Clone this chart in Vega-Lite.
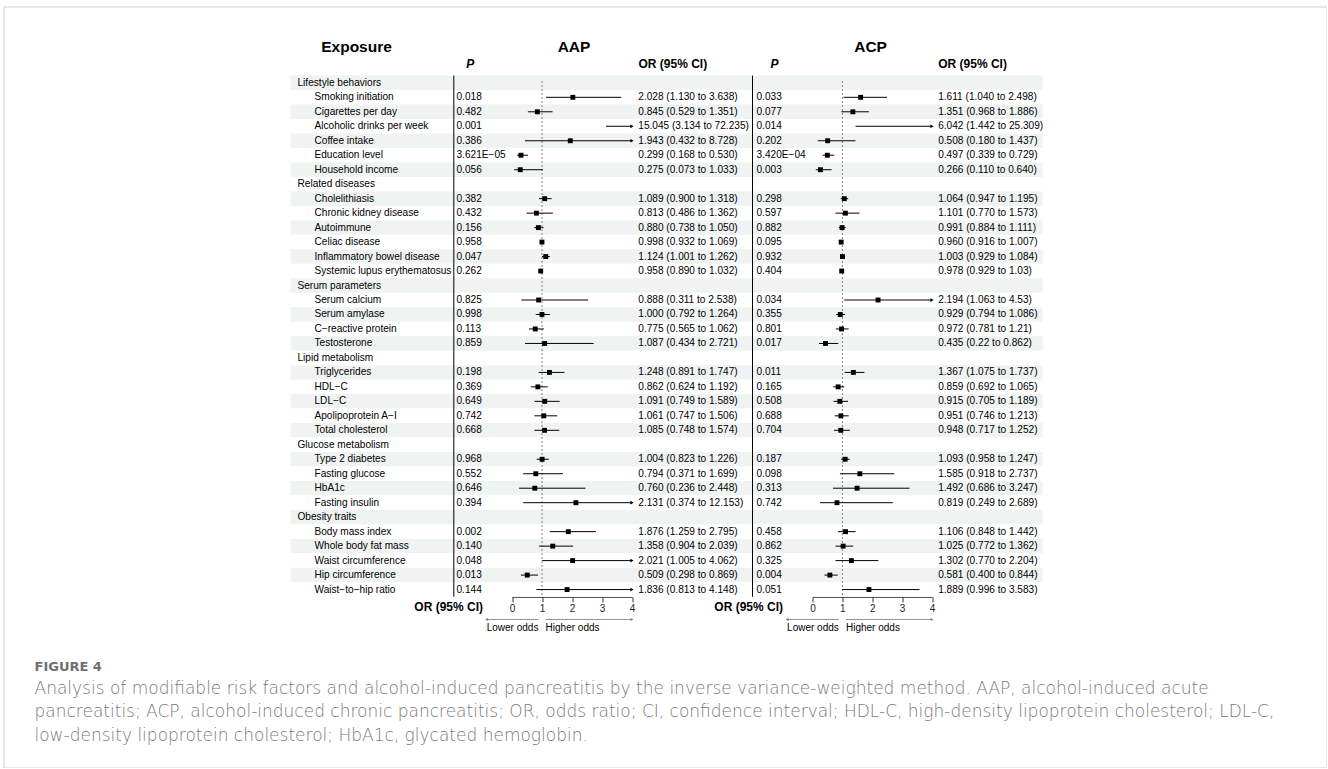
{
  "$schema": "https://vega.github.io/schema/vega-lite/v6.json",
  "padding": {"left": 3.5, "top": 6.5, "right": 0, "bottom": 0},
  "background": "white",
  "width": 1323,
  "height": 761,
  "view": {"stroke": "#cfcfcf", "strokeWidth": 1},
  "config": {
    "font": "Liberation Sans",
    "text": {"font": "Liberation Sans", "fontSize": 10.1, "color": "#000"},
    "axis": {"labelFont": "Liberation Sans", "titleFont": "Liberation Sans"}
  },
  "resolve": {"scale": {"x": "independent", "y": "independent"}, "axis": {"x": "independent", "y": "independent"}},
  "datasets": {
    "rows": [
      {"label": "Lifestyle behaviors", "type": "group"},
      {"label": "Smoking initiation", "type": "item", "aap_p": "0.018", "aap_or": 2.028, "aap_lo": 1.130, "aap_hi": 3.638, "aap_txt": "2.028 (1.130 to 3.638)", "acp_p": "0.033", "acp_or": 1.611, "acp_lo": 1.040, "acp_hi": 2.498, "acp_txt": "1.611 (1.040 to 2.498)"},
      {"label": "Cigarettes per day", "type": "item", "aap_p": "0.482", "aap_or": 0.845, "aap_lo": 0.529, "aap_hi": 1.351, "aap_txt": "0.845 (0.529 to 1.351)", "acp_p": "0.077", "acp_or": 1.351, "acp_lo": 0.968, "acp_hi": 1.886, "acp_txt": "1.351 (0.968 to 1.886)"},
      {"label": "Alcoholic drinks per week", "type": "item", "aap_p": "0.001", "aap_or": 15.045, "aap_lo": 3.134, "aap_hi": 72.235, "aap_txt": "15.045 (3.134 to 72.235)", "acp_p": "0.014", "acp_or": 6.042, "acp_lo": 1.442, "acp_hi": 25.309, "acp_txt": "6.042 (1.442 to 25.309)"},
      {"label": "Coffee intake", "type": "item", "aap_p": "0.386", "aap_or": 1.943, "aap_lo": 0.432, "aap_hi": 8.728, "aap_txt": "1.943 (0.432 to 8.728)", "acp_p": "0.202", "acp_or": 0.508, "acp_lo": 0.180, "acp_hi": 1.437, "acp_txt": "0.508 (0.180 to 1.437)"},
      {"label": "Education level", "type": "item", "aap_p": "3.621E−05", "aap_or": 0.299, "aap_lo": 0.168, "aap_hi": 0.530, "aap_txt": "0.299 (0.168 to 0.530)", "acp_p": "3.420E−04", "acp_or": 0.497, "acp_lo": 0.339, "acp_hi": 0.729, "acp_txt": "0.497 (0.339 to 0.729)"},
      {"label": "Household income", "type": "item", "aap_p": "0.056", "aap_or": 0.275, "aap_lo": 0.073, "aap_hi": 1.033, "aap_txt": "0.275 (0.073 to 1.033)", "acp_p": "0.003", "acp_or": 0.266, "acp_lo": 0.110, "acp_hi": 0.640, "acp_txt": "0.266 (0.110 to 0.640)"},
      {"label": "Related diseases", "type": "group"},
      {"label": "Cholelithiasis", "type": "item", "aap_p": "0.382", "aap_or": 1.089, "aap_lo": 0.900, "aap_hi": 1.318, "aap_txt": "1.089 (0.900 to 1.318)", "acp_p": "0.298", "acp_or": 1.064, "acp_lo": 0.947, "acp_hi": 1.195, "acp_txt": "1.064 (0.947 to 1.195)"},
      {"label": "Chronic kidney disease", "type": "item", "aap_p": "0.432", "aap_or": 0.813, "aap_lo": 0.486, "aap_hi": 1.362, "aap_txt": "0.813 (0.486 to 1.362)", "acp_p": "0.597", "acp_or": 1.101, "acp_lo": 0.770, "acp_hi": 1.573, "acp_txt": "1.101 (0.770 to 1.573)"},
      {"label": "Autoimmune", "type": "item", "aap_p": "0.156", "aap_or": 0.880, "aap_lo": 0.738, "aap_hi": 1.050, "aap_txt": "0.880 (0.738 to 1.050)", "acp_p": "0.882", "acp_or": 0.991, "acp_lo": 0.884, "acp_hi": 1.111, "acp_txt": "0.991 (0.884 to 1.111)"},
      {"label": "Celiac disease", "type": "item", "aap_p": "0.958", "aap_or": 0.998, "aap_lo": 0.932, "aap_hi": 1.069, "aap_txt": "0.998 (0.932 to 1.069)", "acp_p": "0.095", "acp_or": 0.960, "acp_lo": 0.916, "acp_hi": 1.007, "acp_txt": "0.960 (0.916 to 1.007)"},
      {"label": "Inflammatory bowel disease", "type": "item", "aap_p": "0.047", "aap_or": 1.124, "aap_lo": 1.001, "aap_hi": 1.262, "aap_txt": "1.124 (1.001 to 1.262)", "acp_p": "0.932", "acp_or": 1.003, "acp_lo": 0.929, "acp_hi": 1.084, "acp_txt": "1.003 (0.929 to 1.084)"},
      {"label": "Systemic lupus erythematosus", "type": "item", "aap_p": "0.262", "aap_or": 0.958, "aap_lo": 0.890, "aap_hi": 1.032, "aap_txt": "0.958 (0.890 to 1.032)", "acp_p": "0.404", "acp_or": 0.978, "acp_lo": 0.929, "acp_hi": 1.03, "acp_txt": "0.978 (0.929 to 1.03)"},
      {"label": "Serum parameters", "type": "group"},
      {"label": "Serum calcium", "type": "item", "aap_p": "0.825", "aap_or": 0.888, "aap_lo": 0.311, "aap_hi": 2.538, "aap_txt": "0.888 (0.311 to 2.538)", "acp_p": "0.034", "acp_or": 2.194, "acp_lo": 1.063, "acp_hi": 4.53, "acp_txt": "2.194 (1.063 to 4.53)"},
      {"label": "Serum amylase", "type": "item", "aap_p": "0.998", "aap_or": 1.000, "aap_lo": 0.792, "aap_hi": 1.264, "aap_txt": "1.000 (0.792 to 1.264)", "acp_p": "0.355", "acp_or": 0.929, "acp_lo": 0.794, "acp_hi": 1.086, "acp_txt": "0.929 (0.794 to 1.086)"},
      {"label": "C−reactive protein", "type": "item", "aap_p": "0.113", "aap_or": 0.775, "aap_lo": 0.565, "aap_hi": 1.062, "aap_txt": "0.775 (0.565 to 1.062)", "acp_p": "0.801", "acp_or": 0.972, "acp_lo": 0.781, "acp_hi": 1.21, "acp_txt": "0.972 (0.781 to 1.21)"},
      {"label": "Testosterone", "type": "item", "aap_p": "0.859", "aap_or": 1.087, "aap_lo": 0.434, "aap_hi": 2.721, "aap_txt": "1.087 (0.434 to 2.721)", "acp_p": "0.017", "acp_or": 0.435, "acp_lo": 0.22, "acp_hi": 0.862, "acp_txt": "0.435 (0.22 to 0.862)"},
      {"label": "Lipid metabolism", "type": "group"},
      {"label": "Triglycerides", "type": "item", "aap_p": "0.198", "aap_or": 1.248, "aap_lo": 0.891, "aap_hi": 1.747, "aap_txt": "1.248 (0.891 to 1.747)", "acp_p": "0.011", "acp_or": 1.367, "acp_lo": 1.075, "acp_hi": 1.737, "acp_txt": "1.367 (1.075 to 1.737)"},
      {"label": "HDL−C", "type": "item", "aap_p": "0.369", "aap_or": 0.862, "aap_lo": 0.624, "aap_hi": 1.192, "aap_txt": "0.862 (0.624 to 1.192)", "acp_p": "0.165", "acp_or": 0.859, "acp_lo": 0.692, "acp_hi": 1.065, "acp_txt": "0.859 (0.692 to 1.065)"},
      {"label": "LDL−C", "type": "item", "aap_p": "0.649", "aap_or": 1.091, "aap_lo": 0.749, "aap_hi": 1.589, "aap_txt": "1.091 (0.749 to 1.589)", "acp_p": "0.508", "acp_or": 0.915, "acp_lo": 0.705, "acp_hi": 1.189, "acp_txt": "0.915 (0.705 to 1.189)"},
      {"label": "Apolipoprotein A−I", "type": "item", "aap_p": "0.742", "aap_or": 1.061, "aap_lo": 0.747, "aap_hi": 1.506, "aap_txt": "1.061 (0.747 to 1.506)", "acp_p": "0.688", "acp_or": 0.951, "acp_lo": 0.746, "acp_hi": 1.213, "acp_txt": "0.951 (0.746 to 1.213)"},
      {"label": "Total cholesterol", "type": "item", "aap_p": "0.668", "aap_or": 1.085, "aap_lo": 0.748, "aap_hi": 1.574, "aap_txt": "1.085 (0.748 to 1.574)", "acp_p": "0.704", "acp_or": 0.948, "acp_lo": 0.717, "acp_hi": 1.252, "acp_txt": "0.948 (0.717 to 1.252)"},
      {"label": "Glucose metabolism", "type": "group"},
      {"label": "Type 2 diabetes", "type": "item", "aap_p": "0.968", "aap_or": 1.004, "aap_lo": 0.823, "aap_hi": 1.226, "aap_txt": "1.004 (0.823 to 1.226)", "acp_p": "0.187", "acp_or": 1.093, "acp_lo": 0.958, "acp_hi": 1.247, "acp_txt": "1.093 (0.958 to 1.247)"},
      {"label": "Fasting glucose", "type": "item", "aap_p": "0.552", "aap_or": 0.794, "aap_lo": 0.371, "aap_hi": 1.699, "aap_txt": "0.794 (0.371 to 1.699)", "acp_p": "0.098", "acp_or": 1.585, "acp_lo": 0.918, "acp_hi": 2.737, "acp_txt": "1.585 (0.918 to 2.737)"},
      {"label": "HbA1c", "type": "item", "aap_p": "0.646", "aap_or": 0.760, "aap_lo": 0.236, "aap_hi": 2.448, "aap_txt": "0.760 (0.236 to 2.448)", "acp_p": "0.313", "acp_or": 1.492, "acp_lo": 0.686, "acp_hi": 3.247, "acp_txt": "1.492 (0.686 to 3.247)"},
      {"label": "Fasting insulin", "type": "item", "aap_p": "0.394", "aap_or": 2.131, "aap_lo": 0.374, "aap_hi": 12.153, "aap_txt": "2.131 (0.374 to 12.153)", "acp_p": "0.742", "acp_or": 0.819, "acp_lo": 0.249, "acp_hi": 2.689, "acp_txt": "0.819 (0.249 to 2.689)"},
      {"label": "Obesity traits", "type": "group"},
      {"label": "Body mass index", "type": "item", "aap_p": "0.002", "aap_or": 1.876, "aap_lo": 1.259, "aap_hi": 2.795, "aap_txt": "1.876 (1.259 to 2.795)", "acp_p": "0.458", "acp_or": 1.106, "acp_lo": 0.848, "acp_hi": 1.442, "acp_txt": "1.106 (0.848 to 1.442)"},
      {"label": "Whole body fat mass", "type": "item", "aap_p": "0.140", "aap_or": 1.358, "aap_lo": 0.904, "aap_hi": 2.039, "aap_txt": "1.358 (0.904 to 2.039)", "acp_p": "0.862", "acp_or": 1.025, "acp_lo": 0.772, "acp_hi": 1.362, "acp_txt": "1.025 (0.772 to 1.362)"},
      {"label": "Waist circumference", "type": "item", "aap_p": "0.048", "aap_or": 2.021, "aap_lo": 1.005, "aap_hi": 4.062, "aap_txt": "2.021 (1.005 to 4.062)", "acp_p": "0.325", "acp_or": 1.302, "acp_lo": 0.770, "acp_hi": 2.204, "acp_txt": "1.302 (0.770 to 2.204)"},
      {"label": "Hip circumference", "type": "item", "aap_p": "0.013", "aap_or": 0.509, "aap_lo": 0.298, "aap_hi": 0.869, "aap_txt": "0.509 (0.298 to 0.869)", "acp_p": "0.004", "acp_or": 0.581, "acp_lo": 0.400, "acp_hi": 0.844, "acp_txt": "0.581 (0.400 to 0.844)"},
      {"label": "Waist−to−hip ratio", "type": "item", "aap_p": "0.144", "aap_or": 1.836, "aap_lo": 0.813, "aap_hi": 4.148, "aap_txt": "1.836 (0.813 to 4.148)", "acp_p": "0.051", "acp_or": 1.889, "acp_lo": 0.996, "acp_hi": 3.583, "acp_txt": "1.889 (0.996 to 3.583)"}
    ],
    "odds": [
      {"side": "Lower odds", "from": 0.88, "to": -0.85},
      {"side": "Higher odds", "from": 1.12, "to": 4.0}
    ],
    "headers": [
      {"col": "exposure", "line": 0, "text": "Exposure"},
      {"col": "aap", "line": 0, "text": "AAP"},
      {"col": "acp", "line": 0, "text": "ACP"},
      {"col": "aap_p", "line": 1, "text": "P"},
      {"col": "aap_or", "line": 1, "text": "OR (95% CI)"},
      {"col": "acp_p", "line": 1, "text": "P"},
      {"col": "acp_or", "line": 1, "text": "OR (95% CI)"}
    ],
    "caption": [
      {"line": 0, "kind": "label", "text": "FIGURE 4"},
      {"line": 1, "kind": "caption", "text": "Analysis of modifiable risk factors and alcohol-induced pancreatitis by the inverse variance-weighted method. AAP, alcohol-induced acute"},
      {"line": 2, "kind": "caption", "text": "pancreatitis; ACP, alcohol-induced chronic pancreatitis; OR, odds ratio; CI, confidence interval; HDL-C, high-density lipoprotein cholesterol; LDL-C,"},
      {"line": 3, "kind": "caption", "text": "low-density lipoprotein cholesterol; HbA1c, glycated hemoglobin."}
    ]
  },
  "layer": [
    {
      "data": {"name": "rows"},
      "transform": [{"window": [{"op": "row_number", "as": "r"}]}],
      "mark": {"type": "rect"},
      "encoding": {
        "y": {"field": "r", "type": "ordinal", "scale": {"type": "band", "domain": [1,2,3,4,5,6,7,8,9,10,11,12,13,14,15,16,17,18,19,20,21,22,23,24,25,26,27,28,29,30,31,32,33,34,35,36], "range": [69.1, 590.3], "paddingInner": 0, "paddingOuter": 0}, "axis": null},
        "x": {"datum": 0, "type": "quantitative", "scale": {"domain": [0, 1], "range": [287, 1039]}, "axis": null},
        "x2": {"datum": 1},
        "fill": {"condition": {"test": "datum.r % 2 === 1", "value": "#eff3f2"}, "value": "white"}
      }
    },
    {
      "data": {"name": "rows"},
      "transform": [{"window": [{"op": "row_number", "as": "r"}]}],
      "mark": {"type": "text", "align": "left", "baseline": "middle"},
      "encoding": {
        "y": {"field": "r", "type": "ordinal", "scale": {"type": "band", "domain": [1,2,3,4,5,6,7,8,9,10,11,12,13,14,15,16,17,18,19,20,21,22,23,24,25,26,27,28,29,30,31,32,33,34,35,36], "range": [69.1, 590.3], "paddingInner": 0, "paddingOuter": 0}, "axis": null},
        "x": {"field": "type", "type": "nominal", "scale": {"type": "point", "domain": ["group", "item"], "range": [294, 311], "padding": 0}, "axis": null},
        "text": {"field": "label"}
      }
    },
    {
      "data": {"values": [{}]},
      "mark": {"type": "rule", "color": "#000", "strokeWidth": 1},
      "encoding": {
        "x": {"datum": 0, "type": "quantitative", "scale": {"domain": [0, 1], "range": [450.3, 508.5]}, "axis": null},
        "y": {"datum": 0, "type": "quantitative", "scale": {"domain": [0, 1], "range": [69.1, 590.3]}, "axis": null},
        "y2": {"datum": 1}
      }
    },
    {
      "data": {"name": "rows"},
      "transform": [{"window": [{"op": "row_number", "as": "r"}]}, {"filter": "datum.type === 'item'"}],
      "mark": {"type": "text", "align": "left", "baseline": "middle", "dx": 2.7},
      "encoding": {
        "y": {"field": "r", "type": "ordinal", "scale": {"type": "band", "domain": [1,2,3,4,5,6,7,8,9,10,11,12,13,14,15,16,17,18,19,20,21,22,23,24,25,26,27,28,29,30,31,32,33,34,35,36], "range": [69.1, 590.3], "paddingInner": 0, "paddingOuter": 0}, "axis": null},
        "x": {"datum": 0, "type": "quantitative", "scale": {"domain": [0, 1], "range": [450.3, 508.5]}, "axis": null},
        "text": {"field": "aap_p"}
      }
    },
    {
      "data": {"values": [{}]},
      "mark": {"type": "rule", "strokeDash": [2, 2], "color": "#808080", "strokeWidth": 1},
      "encoding": {
        "x": {"datum": 1, "type": "quantitative", "scale": {"domain": [0, 4], "range": [508.5, 628.5], "clamp": true, "nice": false, "zero": false},
          "axis": {"orient": "bottom", "offset": -170.7, "values": [0, 1, 2, 3, 4], "format": "d", "domain": true, "domainColor": "#333", "ticks": true, "tickColor": "#333", "tickSize": 5, "labelFontSize": 10, "labelColor": "#222", "labelPadding": 2, "labelFlush": false, "grid": false, "title": "OR (95% CI)", "titleX": 479, "titleY": 9.4, "titleAlign": "right", "titleBaseline": "middle", "titleFontSize": 12, "titleFontWeight": "bold", "titleColor": "#000"}},
        "y": {"datum": 0, "type": "quantitative", "scale": {"domain": [0, 1], "range": [74.5, 590.3]}, "axis": null},
        "y2": {"datum": 1}
      }
    },
    {
      "data": {"name": "rows"},
      "transform": [{"window": [{"op": "row_number", "as": "r"}]}, {"filter": "datum.type === 'item'"}],
      "mark": {"type": "rule", "color": "#000", "strokeWidth": 1},
      "encoding": {
        "y": {"field": "r", "type": "ordinal", "scale": {"type": "band", "domain": [1,2,3,4,5,6,7,8,9,10,11,12,13,14,15,16,17,18,19,20,21,22,23,24,25,26,27,28,29,30,31,32,33,34,35,36], "range": [69.1, 590.3], "paddingInner": 0, "paddingOuter": 0}, "axis": null},
        "x": {"field": "aap_lo", "type": "quantitative", "scale": {"domain": [0, 4], "range": [508.5, 628.5], "clamp": true, "nice": false, "zero": false}, "axis": null},
        "x2": {"field": "aap_hi"}
      }
    },
    {
      "data": {"name": "rows"},
      "transform": [{"window": [{"op": "row_number", "as": "r"}]}, {"filter": "datum.type === 'item' && datum.aap_hi > 4"}],
      "mark": {"type": "point", "shape": "triangle-right", "filled": true, "size": 14, "color": "#000", "opacity": 1},
      "encoding": {
        "y": {"field": "r", "type": "ordinal", "scale": {"type": "band", "domain": [1,2,3,4,5,6,7,8,9,10,11,12,13,14,15,16,17,18,19,20,21,22,23,24,25,26,27,28,29,30,31,32,33,34,35,36], "range": [69.1, 590.3], "paddingInner": 0, "paddingOuter": 0}, "axis": null},
        "x": {"field": "aap_hi", "type": "quantitative", "scale": {"domain": [0, 4], "range": [508.5, 628.5], "clamp": true, "nice": false, "zero": false}, "axis": null}
      }
    },
    {
      "data": {"name": "rows"},
      "transform": [{"window": [{"op": "row_number", "as": "r"}]}, {"filter": "datum.type === 'item' && datum.aap_or <= 4"}],
      "mark": {"type": "point", "shape": "square", "filled": true, "size": 24, "color": "#000", "opacity": 1},
      "encoding": {
        "y": {"field": "r", "type": "ordinal", "scale": {"type": "band", "domain": [1,2,3,4,5,6,7,8,9,10,11,12,13,14,15,16,17,18,19,20,21,22,23,24,25,26,27,28,29,30,31,32,33,34,35,36], "range": [69.1, 590.3], "paddingInner": 0, "paddingOuter": 0}, "axis": null},
        "x": {"field": "aap_or", "type": "quantitative", "scale": {"domain": [0, 4], "range": [508.5, 628.5], "clamp": true, "nice": false, "zero": false}, "axis": null}
      }
    },
    {
      "data": {"name": "rows"},
      "transform": [{"window": [{"op": "row_number", "as": "r"}]}, {"filter": "datum.type === 'item'"}],
      "mark": {"type": "text", "align": "left", "baseline": "middle", "dx": 6.3},
      "encoding": {
        "y": {"field": "r", "type": "ordinal", "scale": {"type": "band", "domain": [1,2,3,4,5,6,7,8,9,10,11,12,13,14,15,16,17,18,19,20,21,22,23,24,25,26,27,28,29,30,31,32,33,34,35,36], "range": [69.1, 590.3], "paddingInner": 0, "paddingOuter": 0}, "axis": null},
        "x": {"datum": 0, "type": "quantitative", "scale": {"domain": [0, 1], "range": [628.5, 749]}, "axis": null},
        "text": {"field": "aap_txt"}
      }
    },
    {
      "data": {"values": [{}]},
      "mark": {"type": "rule", "color": "#000", "strokeWidth": 1},
      "encoding": {
        "x": {"datum": 0, "type": "quantitative", "scale": {"domain": [0, 1], "range": [749, 809]}, "axis": null},
        "y": {"datum": 0, "type": "quantitative", "scale": {"domain": [0, 1], "range": [69.1, 590.3]}, "axis": null},
        "y2": {"datum": 1}
      }
    },
    {
      "data": {"name": "rows"},
      "transform": [{"window": [{"op": "row_number", "as": "r"}]}, {"filter": "datum.type === 'item'"}],
      "mark": {"type": "text", "align": "left", "baseline": "middle", "dx": 4},
      "encoding": {
        "y": {"field": "r", "type": "ordinal", "scale": {"type": "band", "domain": [1,2,3,4,5,6,7,8,9,10,11,12,13,14,15,16,17,18,19,20,21,22,23,24,25,26,27,28,29,30,31,32,33,34,35,36], "range": [69.1, 590.3], "paddingInner": 0, "paddingOuter": 0}, "axis": null},
        "x": {"datum": 0, "type": "quantitative", "scale": {"domain": [0, 1], "range": [749, 809]}, "axis": null},
        "text": {"field": "acp_p"}
      }
    },
    {
      "data": {"values": [{}]},
      "mark": {"type": "rule", "strokeDash": [2, 2], "color": "#808080", "strokeWidth": 1},
      "encoding": {
        "x": {"datum": 1, "type": "quantitative", "scale": {"domain": [0, 4], "range": [809, 928.5], "clamp": true, "nice": false, "zero": false},
          "axis": {"orient": "bottom", "offset": -170.7, "values": [0, 1, 2, 3, 4], "format": "d", "domain": true, "domainColor": "#333", "ticks": true, "tickColor": "#333", "tickSize": 5, "labelFontSize": 10, "labelColor": "#222", "labelPadding": 2, "labelFlush": false, "grid": false, "title": "OR (95% CI)", "titleX": 779, "titleY": 9.4, "titleAlign": "right", "titleBaseline": "middle", "titleFontSize": 12, "titleFontWeight": "bold", "titleColor": "#000"}},
        "y": {"datum": 0, "type": "quantitative", "scale": {"domain": [0, 1], "range": [74.5, 590.3]}, "axis": null},
        "y2": {"datum": 1}
      }
    },
    {
      "data": {"name": "rows"},
      "transform": [{"window": [{"op": "row_number", "as": "r"}]}, {"filter": "datum.type === 'item'"}],
      "mark": {"type": "rule", "color": "#000", "strokeWidth": 1},
      "encoding": {
        "y": {"field": "r", "type": "ordinal", "scale": {"type": "band", "domain": [1,2,3,4,5,6,7,8,9,10,11,12,13,14,15,16,17,18,19,20,21,22,23,24,25,26,27,28,29,30,31,32,33,34,35,36], "range": [69.1, 590.3], "paddingInner": 0, "paddingOuter": 0}, "axis": null},
        "x": {"field": "acp_lo", "type": "quantitative", "scale": {"domain": [0, 4], "range": [809, 928.5], "clamp": true, "nice": false, "zero": false}, "axis": null},
        "x2": {"field": "acp_hi"}
      }
    },
    {
      "data": {"name": "rows"},
      "transform": [{"window": [{"op": "row_number", "as": "r"}]}, {"filter": "datum.type === 'item' && datum.acp_hi > 4"}],
      "mark": {"type": "point", "shape": "triangle-right", "filled": true, "size": 14, "color": "#000", "opacity": 1},
      "encoding": {
        "y": {"field": "r", "type": "ordinal", "scale": {"type": "band", "domain": [1,2,3,4,5,6,7,8,9,10,11,12,13,14,15,16,17,18,19,20,21,22,23,24,25,26,27,28,29,30,31,32,33,34,35,36], "range": [69.1, 590.3], "paddingInner": 0, "paddingOuter": 0}, "axis": null},
        "x": {"field": "acp_hi", "type": "quantitative", "scale": {"domain": [0, 4], "range": [809, 928.5], "clamp": true, "nice": false, "zero": false}, "axis": null}
      }
    },
    {
      "data": {"name": "rows"},
      "transform": [{"window": [{"op": "row_number", "as": "r"}]}, {"filter": "datum.type === 'item' && datum.acp_or <= 4"}],
      "mark": {"type": "point", "shape": "square", "filled": true, "size": 24, "color": "#000", "opacity": 1},
      "encoding": {
        "y": {"field": "r", "type": "ordinal", "scale": {"type": "band", "domain": [1,2,3,4,5,6,7,8,9,10,11,12,13,14,15,16,17,18,19,20,21,22,23,24,25,26,27,28,29,30,31,32,33,34,35,36], "range": [69.1, 590.3], "paddingInner": 0, "paddingOuter": 0}, "axis": null},
        "x": {"field": "acp_or", "type": "quantitative", "scale": {"domain": [0, 4], "range": [809, 928.5], "clamp": true, "nice": false, "zero": false}, "axis": null}
      }
    },
    {
      "data": {"name": "rows"},
      "transform": [{"window": [{"op": "row_number", "as": "r"}]}, {"filter": "datum.type === 'item'"}],
      "mark": {"type": "text", "align": "left", "baseline": "middle", "dx": 6.2},
      "encoding": {
        "y": {"field": "r", "type": "ordinal", "scale": {"type": "band", "domain": [1,2,3,4,5,6,7,8,9,10,11,12,13,14,15,16,17,18,19,20,21,22,23,24,25,26,27,28,29,30,31,32,33,34,35,36], "range": [69.1, 590.3], "paddingInner": 0, "paddingOuter": 0}, "axis": null},
        "x": {"datum": 0, "type": "quantitative", "scale": {"domain": [0, 1], "range": [928.5, 1039]}, "axis": null},
        "text": {"field": "acp_txt"}
      }
    },
    {
      "data": {"name": "odds"},
      "mark": {"type": "rule", "color": "#777", "strokeWidth": 0.8},
      "encoding": {
        "x": {"field": "from", "type": "quantitative", "scale": {"domain": [0, 4], "range": [508.5, 628.5], "nice": false, "zero": false}, "axis": null},
        "x2": {"field": "to"},
        "y": {"datum": 0, "type": "quantitative", "scale": {"domain": [0, 1], "range": [613, 614]}, "axis": null}
      }
    },
    {
      "data": {"name": "odds"},
      "mark": {"type": "point", "filled": true, "size": 10, "color": "#777", "opacity": 1},
      "encoding": {
        "x": {"field": "to", "type": "quantitative", "scale": {"domain": [0, 4], "range": [508.5, 628.5], "nice": false, "zero": false}, "axis": null},
        "y": {"datum": 0, "type": "quantitative", "scale": {"domain": [0, 1], "range": [613, 614]}, "axis": null},
        "shape": {"field": "side", "type": "nominal", "scale": {"domain": ["Lower odds", "Higher odds"], "range": ["triangle-left", "triangle-right"]}, "legend": null}
      }
    },
    {
      "data": {"name": "odds"},
      "transform": [{"filter": "datum.side === 'Lower odds'"}],
      "mark": {"type": "text", "align": "right", "baseline": "middle", "dy": 8.3, "fontSize": 10},
      "encoding": {
        "x": {"field": "from", "type": "quantitative", "scale": {"domain": [0, 4], "range": [508.5, 628.5], "nice": false, "zero": false}, "axis": null},
        "y": {"datum": 0, "type": "quantitative", "scale": {"domain": [0, 1], "range": [613, 614]}, "axis": null},
        "text": {"field": "side"}
      }
    },
    {
      "data": {"name": "odds"},
      "transform": [{"filter": "datum.side === 'Higher odds'"}],
      "mark": {"type": "text", "align": "left", "baseline": "middle", "dy": 8.3, "fontSize": 10},
      "encoding": {
        "x": {"field": "from", "type": "quantitative", "scale": {"domain": [0, 4], "range": [508.5, 628.5], "nice": false, "zero": false}, "axis": null},
        "y": {"datum": 0, "type": "quantitative", "scale": {"domain": [0, 1], "range": [613, 614]}, "axis": null},
        "text": {"field": "side"}
      }
    },
    {
      "data": {"name": "odds"},
      "mark": {"type": "rule", "color": "#777", "strokeWidth": 0.8},
      "encoding": {
        "x": {"field": "from", "type": "quantitative", "scale": {"domain": [0, 4], "range": [809, 928.5], "nice": false, "zero": false}, "axis": null},
        "x2": {"field": "to"},
        "y": {"datum": 0, "type": "quantitative", "scale": {"domain": [0, 1], "range": [613, 614]}, "axis": null}
      }
    },
    {
      "data": {"name": "odds"},
      "mark": {"type": "point", "filled": true, "size": 10, "color": "#777", "opacity": 1},
      "encoding": {
        "x": {"field": "to", "type": "quantitative", "scale": {"domain": [0, 4], "range": [809, 928.5], "nice": false, "zero": false}, "axis": null},
        "y": {"datum": 0, "type": "quantitative", "scale": {"domain": [0, 1], "range": [613, 614]}, "axis": null},
        "shape": {"field": "side", "type": "nominal", "scale": {"domain": ["Lower odds", "Higher odds"], "range": ["triangle-left", "triangle-right"]}, "legend": null}
      }
    },
    {
      "data": {"name": "odds"},
      "transform": [{"filter": "datum.side === 'Lower odds'"}],
      "mark": {"type": "text", "align": "right", "baseline": "middle", "dy": 8.3, "fontSize": 10},
      "encoding": {
        "x": {"field": "from", "type": "quantitative", "scale": {"domain": [0, 4], "range": [809, 928.5], "nice": false, "zero": false}, "axis": null},
        "y": {"datum": 0, "type": "quantitative", "scale": {"domain": [0, 1], "range": [613, 614]}, "axis": null},
        "text": {"field": "side"}
      }
    },
    {
      "data": {"name": "odds"},
      "transform": [{"filter": "datum.side === 'Higher odds'"}],
      "mark": {"type": "text", "align": "left", "baseline": "middle", "dy": 8.3, "fontSize": 10},
      "encoding": {
        "x": {"field": "from", "type": "quantitative", "scale": {"domain": [0, 4], "range": [809, 928.5], "nice": false, "zero": false}, "axis": null},
        "y": {"datum": 0, "type": "quantitative", "scale": {"domain": [0, 1], "range": [613, 614]}, "axis": null},
        "text": {"field": "side"}
      }
    },
    {
      "data": {"name": "headers"},
      "transform": [{"filter": "datum.col === 'exposure'"}],
      "mark": {"type": "text", "align": "left", "baseline": "alphabetic", "dx": 30.7, "fontSize": 15.5, "fontWeight": "bold"},
      "encoding": {
        "x": {"datum": 0, "type": "quantitative", "scale": {"domain": [0, 1], "range": [287, 450.3]}, "axis": null},
        "y": {"field": "line", "type": "quantitative", "scale": {"domain": [0, 1], "range": [45.7, 61.3]}, "axis": null},
        "text": {"field": "text"}
      }
    },
    {
      "data": {"name": "headers"},
      "transform": [{"filter": "datum.col === 'aap'"}],
      "mark": {"type": "text", "align": "center", "baseline": "alphabetic", "dx": 2, "fontSize": 15.5, "fontWeight": "bold"},
      "encoding": {
        "x": {"datum": 2, "type": "quantitative", "scale": {"domain": [0, 4], "range": [508.5, 628.5]}, "axis": null},
        "y": {"field": "line", "type": "quantitative", "scale": {"domain": [0, 1], "range": [45.7, 61.3]}, "axis": null},
        "text": {"field": "text"}
      }
    },
    {
      "data": {"name": "headers"},
      "transform": [{"filter": "datum.col === 'acp'"}],
      "mark": {"type": "text", "align": "center", "baseline": "alphabetic", "dx": -1.7, "fontSize": 15.5, "fontWeight": "bold"},
      "encoding": {
        "x": {"datum": 2, "type": "quantitative", "scale": {"domain": [0, 4], "range": [809, 928.5]}, "axis": null},
        "y": {"field": "line", "type": "quantitative", "scale": {"domain": [0, 1], "range": [45.7, 61.3]}, "axis": null},
        "text": {"field": "text"}
      }
    },
    {
      "data": {"name": "headers"},
      "transform": [{"filter": "datum.col === 'aap_p'"}],
      "mark": {"type": "text", "align": "left", "baseline": "alphabetic", "dx": 12.4, "fontSize": 12, "fontWeight": "bold", "fontStyle": "italic"},
      "encoding": {
        "x": {"datum": 0, "type": "quantitative", "scale": {"domain": [0, 1], "range": [450.3, 508.5]}, "axis": null},
        "y": {"field": "line", "type": "quantitative", "scale": {"domain": [0, 1], "range": [45.7, 61.3]}, "axis": null},
        "text": {"field": "text"}
      }
    },
    {
      "data": {"name": "headers"},
      "transform": [{"filter": "datum.col === 'aap_or'"}],
      "mark": {"type": "text", "align": "left", "baseline": "alphabetic", "dx": 6.5, "fontSize": 12, "fontWeight": "bold"},
      "encoding": {
        "x": {"datum": 0, "type": "quantitative", "scale": {"domain": [0, 1], "range": [628.5, 749]}, "axis": null},
        "y": {"field": "line", "type": "quantitative", "scale": {"domain": [0, 1], "range": [45.7, 61.3]}, "axis": null},
        "text": {"field": "text"}
      }
    },
    {
      "data": {"name": "headers"},
      "transform": [{"filter": "datum.col === 'acp_p'"}],
      "mark": {"type": "text", "align": "left", "baseline": "alphabetic", "dx": 18, "fontSize": 12, "fontWeight": "bold", "fontStyle": "italic"},
      "encoding": {
        "x": {"datum": 0, "type": "quantitative", "scale": {"domain": [0, 1], "range": [749, 809]}, "axis": null},
        "y": {"field": "line", "type": "quantitative", "scale": {"domain": [0, 1], "range": [45.7, 61.3]}, "axis": null},
        "text": {"field": "text"}
      }
    },
    {
      "data": {"name": "headers"},
      "transform": [{"filter": "datum.col === 'acp_or'"}],
      "mark": {"type": "text", "align": "left", "baseline": "alphabetic", "dx": 6.2, "fontSize": 12, "fontWeight": "bold"},
      "encoding": {
        "x": {"datum": 0, "type": "quantitative", "scale": {"domain": [0, 1], "range": [928.5, 1039]}, "axis": null},
        "y": {"field": "line", "type": "quantitative", "scale": {"domain": [0, 1], "range": [45.7, 61.3]}, "axis": null},
        "text": {"field": "text"}
      }
    },
    {
      "data": {"name": "caption"},
      "transform": [{"filter": "datum.kind === 'label'"}],
      "mark": {"type": "text", "align": "left", "baseline": "alphabetic", "dx": 31, "font": "DejaVu Sans", "fontSize": 13, "fontWeight": "bold", "color": "#707070"},
      "encoding": {
        "x": {"datum": 0, "type": "quantitative", "scale": {"domain": [0, 1], "range": [0, 1323]}, "axis": null},
        "y": {"field": "line", "type": "quantitative", "scale": {"domain": [0, 3], "range": [664.7, 734]}, "axis": null},
        "text": {"field": "text"}
      }
    },
    {
      "data": {"name": "caption"},
      "transform": [{"filter": "datum.kind === 'caption'"}],
      "mark": {"type": "text", "align": "left", "baseline": "alphabetic", "dx": 31, "font": "DejaVu Sans", "fontSize": 17, "fontWeight": 300, "color": "#7a7a7a"},
      "encoding": {
        "x": {"datum": 0, "type": "quantitative", "scale": {"domain": [0, 1], "range": [0, 1323]}, "axis": null},
        "y": {"field": "line", "type": "quantitative", "scale": {"domain": [0, 3], "range": [664.7, 734]}, "axis": null},
        "text": {"field": "text"}
      }
    }
  ]
}
